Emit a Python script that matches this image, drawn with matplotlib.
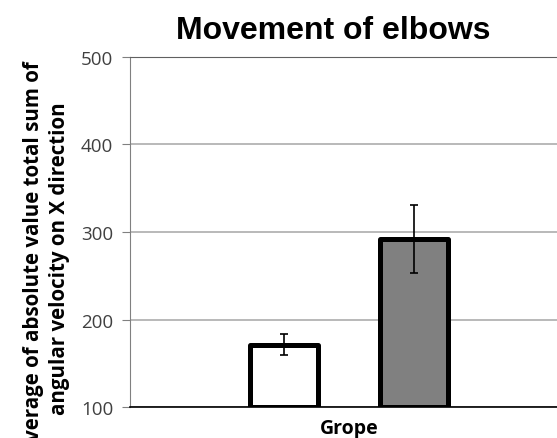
import numpy as np
import matplotlib.pyplot as plt

# data
groups = ['A', 'B']
means = [171, 292]
errors = [12, 39]
colors = ['white', '#808080']
ymin, ymax = 100, 500
yticks = [100, 200, 300, 400, 500]

fig = plt.figure(figsize=(5.57, 4.39), dpi=100)
ax = fig.add_axes([0.2334, 0.0706, 0.7666, 0.7973])

x = np.array([-0.5, 0.5])
heights = np.array(means) - ymin
ax.bar(x, heights, bottom=ymin, width=0.52, color=colors, edgecolor='black',
       linewidth=3.6, joinstyle='round', zorder=3)
ax.errorbar(x, means, yerr=errors, fmt='none', ecolor='black', elinewidth=1.2,
            capsize=3.2, capthick=1.2, zorder=4)

ax.set_xlim(-1.685, 1.6)
ax.set_ylim(ymin, ymax)
ax.set_yticks(yticks)
ax.set_xticks([0])
ax.set_xticklabels(['Grope'], fontsize=14, fontweight='bold', family='Open Sans')
ax.tick_params(axis='x', length=0, pad=8)
ax.tick_params(axis='y', length=6, color='#808080', labelsize=13.5, labelcolor='#404040', pad=6)
for lab in ax.get_yticklabels():
    lab.set_family('Open Sans')

ax.yaxis.grid(True, color='#a6a6a6', linewidth=1.1, zorder=0)
ax.set_axisbelow(True)
ax.spines['right'].set_visible(False)
ax.spines['top'].set_color('#606060')
ax.spines['left'].set_color('#808080')
ax.spines['bottom'].set_color('black')
ax.spines['bottom'].set_linewidth(1.2)

ax.set_ylabel('Average of absolute value total sum of\nangular velocity on X direction',
              fontsize=14.8, fontweight='bold', family='Open Sans', linespacing=1.3)
ax.yaxis.set_label_coords(-0.14, 0.427)

fig.text(0.598, 0.930, 'Movement of elbows', ha='center', va='center',
         fontsize=23, fontweight='bold', family='Liberation Sans')

fig.savefig('out.png', dpi=100)
